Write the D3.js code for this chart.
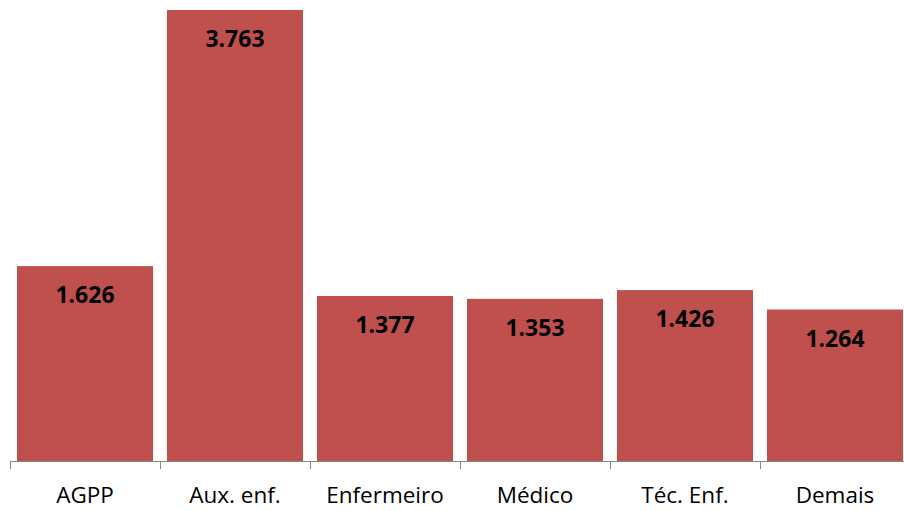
<!DOCTYPE html>
<html>
<head>
<meta charset="utf-8">
<script src="https://cdn.jsdelivr.net/npm/d3@7"></script>
<style>
  body { margin: 0; background: #fff; }
  svg { display: block; }
</style>
</head>
<body>
<div id="viz"></div>
<script>
const categories = ["AGPP", "Aux. enf.", "Enfermeiro", "Médico", "Téc. Enf.", "Demais"];
const values = [1.626, 3.763, 1.377, 1.353, 1.426, 1.264];
const valueLabels = ["1.626", "3.763", "1.377", "1.353", "1.426", "1.264"];

const width = 904, height = 511;
const baseY = 461;

const svg = d3.select("#viz")
  .append("svg")
    .attr("width", width)
    .attr("height", height);

const x = d3.scaleBand()
  .domain(categories)
  .range([10, 910])
  .paddingInner(0.0933)
  .paddingOuter(0.0467);

const y = d3.scaleLinear()
  .domain([0, 3.763])
  .range([baseY, 10]);

const data = categories.map((c, i) => ({ cat: c, value: values[i], label: valueLabels[i] }));

svg.selectAll("rect.bar")
  .data(data)
  .join("rect")
    .attr("class", "bar")
    .attr("x", d => x(d.cat))
    .attr("y", d => y(d.value))
    .attr("width", x.bandwidth())
    .attr("height", d => baseY - y(d.value))
    .style("fill", "#C0504D");

// axis with ticks between the categories
const step = x.step();
const tickXs = d3.range(categories.length + 1).map(i => 10 + i * step);
const axis = svg.append("g");
axis.append("line")
  .attr("x1", 10).attr("x2", 910)
  .attr("y1", baseY + 0.5).attr("y2", baseY + 0.5)
  .style("stroke", "#868686").style("stroke-width", 1);
axis.selectAll("line.tick")
  .data(tickXs)
  .join("line")
    .attr("class", "tick")
    .attr("x1", d => d + 0.5).attr("x2", d => d + 0.5)
    .attr("y1", baseY).attr("y2", baseY + 8)
    .style("stroke", "#868686").style("stroke-width", 1);

svg.selectAll("text.cat")
  .data(categories)
  .join("text")
    .attr("class", "cat")
    .attr("x", d => x(d) + x.bandwidth() / 2)
    .attr("y", 503)
    .attr("text-anchor", "middle")
    .style("font-family", "Open Sans, sans-serif")
    .style("font-size", "22.5px")
    .style("fill", "#000")
    .text(d => d);

svg.selectAll("text.val")
  .data(data)
  .join("text")
    .attr("class", "val")
    .attr("x", d => x(d.cat) + x.bandwidth() / 2)
    .attr("y", d => y(d.value) + 37)
    .attr("text-anchor", "middle")
    .style("font-family", "Open Sans, sans-serif")
    .style("font-size", "23px")
    .style("font-weight", "bold")
    .style("fill", "#000")
    .text(d => d.label);
</script>
</body>
</html>
